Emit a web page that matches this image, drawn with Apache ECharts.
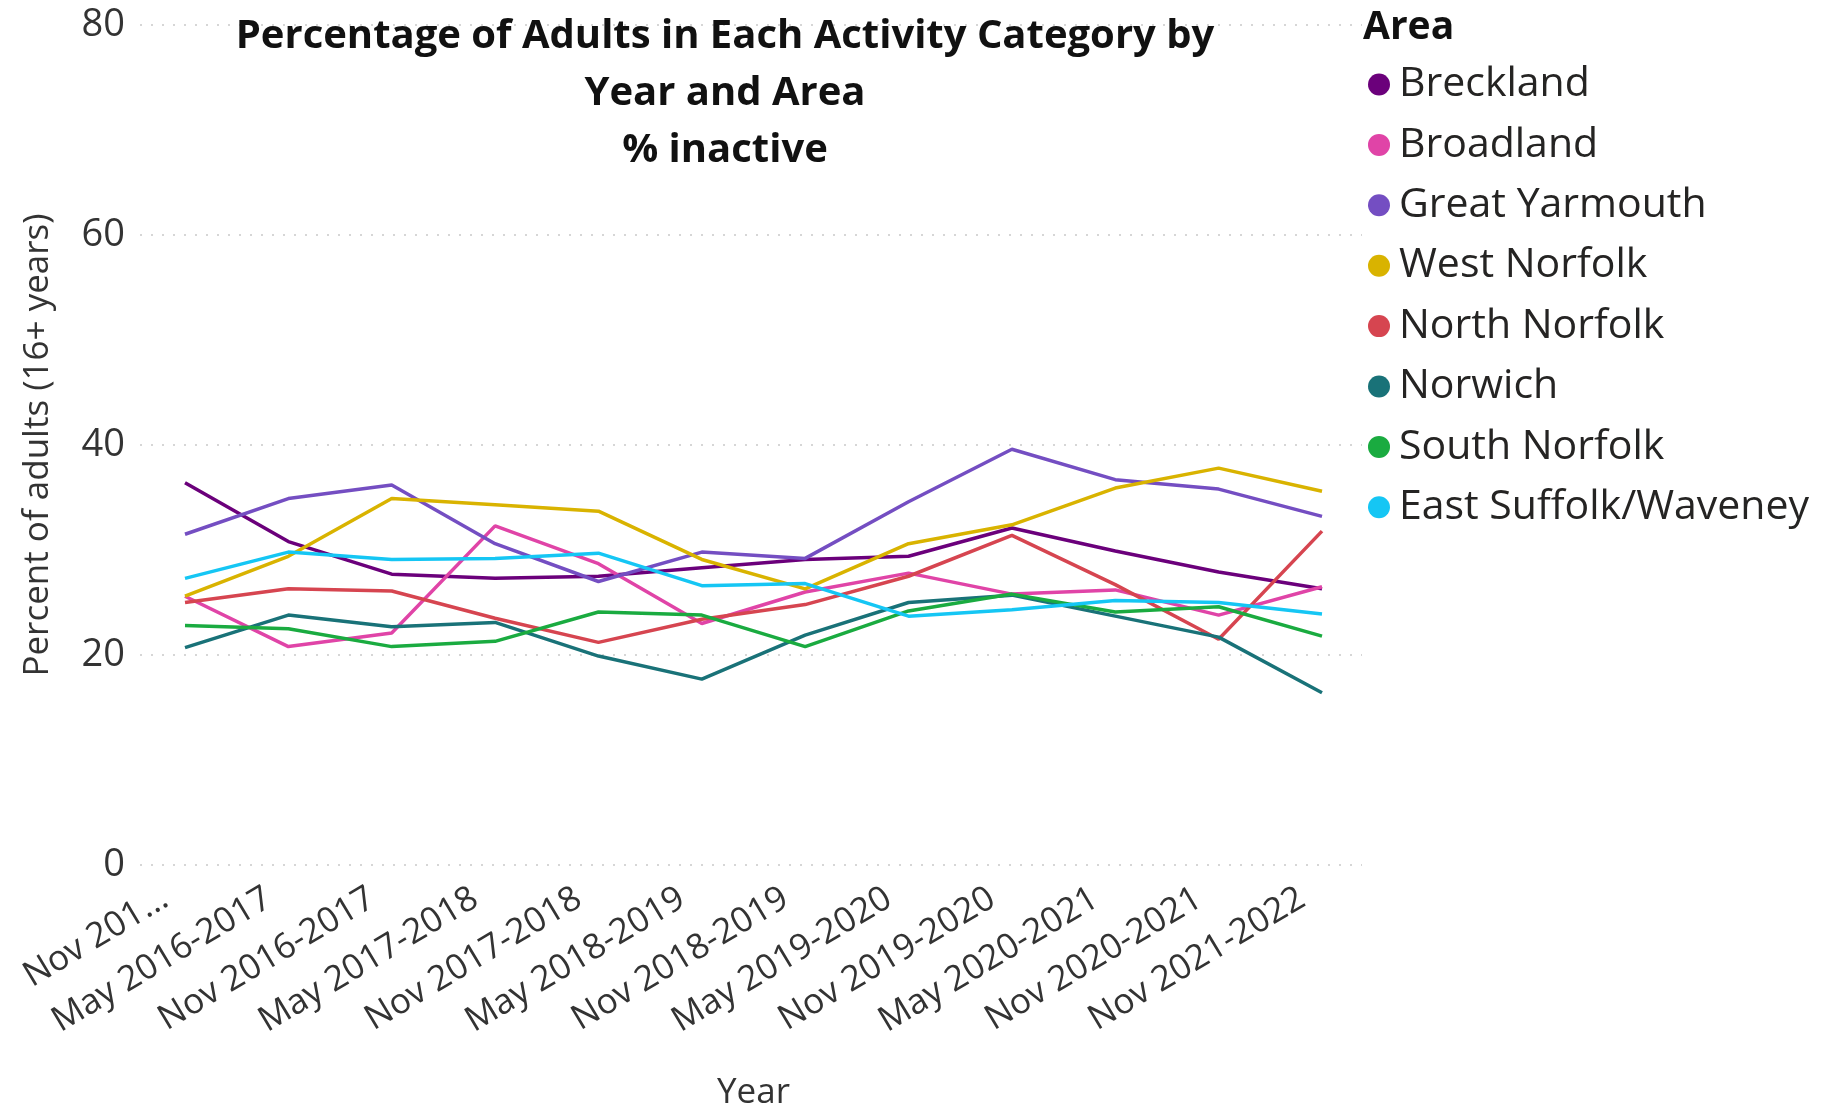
<!DOCTYPE html>
<html>
<head>
<meta charset="utf-8">
<script src="https://cdn.jsdelivr.net/npm/echarts@6/dist/echarts.min.js"></script>
<style>
html,body{margin:0;padding:0;background:#fff;}
#chart{width:1831px;height:1111px;}
</style>
</head>
<body>
<div id="chart"></div>
<script>
const categories = ["Nov 2015-2016","May 2016-2017","Nov 2016-2017","May 2017-2018","Nov 2017-2018","May 2018-2019","Nov 2018-2019","May 2019-2020","Nov 2019-2020","May 2020-2021","Nov 2020-2021","Nov 2021-2022"];
const firstTickLabel = "Nov 201...";
const yTicks = [0, 20, 40, 60, 80];

const areaNames = ["Breckland","Broadland","Great Yarmouth","West Norfolk","North Norfolk","Norwich","South Norfolk","East Suffolk/Waveney"];
const areaColors = ["#6B007B","#E044A7","#744EC2","#D9B300","#D64550","#197278","#1AAB40","#15C6F4"];

const breckland     = [36.4, 30.8, 27.7, 27.3, 27.5, 28.3, 29.1, 29.4, 32.1, 29.9, 27.9, 26.3];
const broadland     = [25.6, 20.8, 22.1, 32.3, 28.7, 23.0, 26.0, 27.8, 25.8, 26.2, 23.8, 26.5];
const greatYarmouth = [31.5, 34.9, 36.2, 30.6, 27.0, 29.8, 29.2, 34.6, 39.6, 36.7, 35.8, 33.2];
const westNorfolk   = [25.6, 29.4, 34.9, 34.3, 33.7, 29.1, 26.3, 30.6, 32.4, 35.9, 37.8, 35.6];
const northNorfolk  = [25.0, 26.3, 26.1, 23.5, 21.2, 23.4, 24.8, 27.5, 31.4, 26.7, 21.5, 31.8];
const norwich       = [20.7, 23.8, 22.7, 23.1, 19.9, 17.7, 21.9, 25.0, 25.7, 23.7, 21.7, 16.4];
const southNorfolk  = [22.8, 22.5, 20.8, 21.3, 24.1, 23.8, 20.8, 24.2, 25.8, 24.1, 24.6, 21.8];
const eastSuffolk   = [27.3, 29.8, 29.1, 29.2, 29.7, 26.6, 26.8, 23.7, 24.3, 25.2, 25.0, 23.9];

const seriesValues = [breckland, broadland, greatYarmouth, westNorfolk, northNorfolk, norwich, southNorfolk, eastSuffolk];

const FONT = "'Segoe UI', 'Open Sans', sans-serif";
const chart = echarts.init(document.getElementById('chart'), null, {renderer: 'canvas'});

const series = areaNames.map((name, i) => ({
  name: name,
  type: 'line',
  xAxisIndex: 1,
  yAxisIndex: 1,
  data: seriesValues[i],
  symbol: 'none',
  smooth: false,
  lineStyle: {width: 3.5, color: areaColors[i]},
  itemStyle: {color: areaColors[i]},
  emphasis: {disabled: true}
}));

chart.setOption({
  animation: false,
  backgroundColor: '#ffffff',
  title: [
    {
      text: 'Percentage of Adults in Each Activity Category by\nYear and Area\n% inactive',
      left: 725,
      top: 8,
      textAlign: 'center',
      padding: 0,
      textStyle: {fontFamily: FONT, fontSize: 40, fontWeight: 'bold', color: '#111', lineHeight: 57}
    },
    {
      text: 'Area',
      left: 1363,
      top: 8,
      padding: 0,
      textStyle: {fontFamily: FONT, fontSize: 39, fontWeight: 'bold', color: '#111', lineHeight: 40}
    }
  ],
  legend: {
    orient: 'vertical',
    left: 1368,
    top: 64,
    padding: 0,
    icon: 'circle',
    itemWidth: 22,
    itemHeight: 22,
    itemGap: 19.4,
    data: areaNames,
    textStyle: {fontFamily: FONT, fontSize: 41, color: '#252423', lineHeight: 40, padding: [0, 0, 0, 4]}
  },
  grid: [
    {left: 140, right: 469, top: 25, bottom: 246, containLabel: false, outerBoundsMode: 'none'},
    {left: 185, right: 509, top: 25, bottom: 246, containLabel: false, outerBoundsMode: 'none'}
  ],
  xAxis: [
    {gridIndex: 0, type: 'value', show: false, min: 0, max: 1},
    {
      gridIndex: 1,
      type: 'category',
      data: categories,
      boundaryGap: false,
      name: 'Year',
      nameLocation: 'middle',
      nameGap: 211,
      nameTextStyle: {fontFamily: FONT, fontSize: 35, color: '#333', lineHeight: 34},
      axisLine: {show: false},
      axisTick: {show: false},
      splitLine: {show: false},
      axisLabel: {
        interval: 0,
        rotate: 31,
        margin: 19,
        padding: [0, 23, 0, 0],
        fontFamily: FONT,
        fontSize: 35,
        color: '#333',
        formatter: function (v, idx) { return idx === 0 ? firstTickLabel : v; }
      }
    }
  ],
  yAxis: [
    {
      gridIndex: 0,
      type: 'value',
      min: yTicks[0],
      max: yTicks[yTicks.length - 1],
      interval: 20,
      name: 'Percent of adults (16+ years)',
      nameLocation: 'middle',
      nameGap: 84,
      nameTextStyle: {fontFamily: FONT, fontSize: 35, color: '#333'},
      axisLine: {show: false},
      axisTick: {show: false},
      axisLabel: {margin: 15, fontFamily: FONT, fontSize: 38, color: '#333'},
      splitLine: {show: true, lineStyle: {type: [2, 9], width: 2, color: '#d6d6d6'}}
    },
    {
      gridIndex: 1,
      type: 'value',
      min: yTicks[0],
      max: yTicks[yTicks.length - 1],
      interval: 20,
      show: false,
      splitLine: {show: false}
    }
  ],
  series: series
});
</script>
</body>
</html>
